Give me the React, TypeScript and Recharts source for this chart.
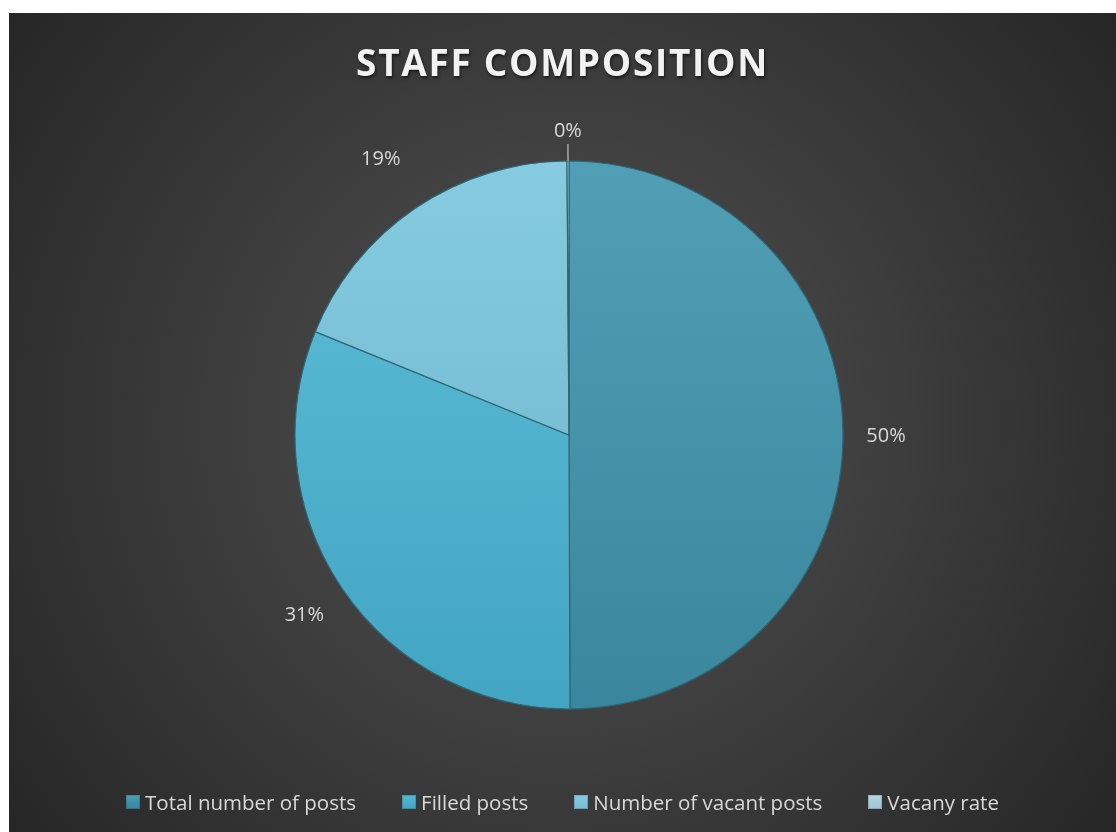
import React from "react";
import { PieChart, Pie, Cell, Legend } from "recharts";

const categories = ["Total number of posts", "Filled posts", "Number of vacant posts", "Vacany rate"];
const values = [160, 100, 60, 0.375];
const title = "STAFF COMPOSITION";

const topColors = ["#519fb5", "#55b6d1", "#86cbe0", "#b3d5e3"];
const bottomColors = ["#3a879d", "#42a5c1", "#78bfd5", "#9fc6d6"];
const iconColors = ["#3e8fa8", "#4bb0cc", "#7dc3d9", "#a9cbd9"];

const data = categories.map((name, i) => ({ name, value: values[i] }));

const FONT = "'Open Sans', 'DejaVu Sans', sans-serif";
const RADIAN = Math.PI / 180;

const renderLabel = (props: any) => {
  const { cx, cy, midAngle, outerRadius, percent } = props;
  const ux = Math.cos(-midAngle * RADIAN);
  const uy = Math.sin(-midAngle * RADIAN);
  const text = `${Math.round(percent * 100)}%`;
  if (percent < 0.01) {
    const d = outerRadius + 32;
    return (
      <g>
        <line
          x1={cx + ux * outerRadius}
          y1={cy + uy * outerRadius}
          x2={cx + ux * (outerRadius + 17)}
          y2={cy + uy * (outerRadius + 17)}
          stroke="#a6a6a6"
          strokeWidth={1.5}
        />
        <text x={cx + ux * d} y={cy + uy * d} fill="#d9d9d9" fontSize={20} fontFamily={FONT} textAnchor="middle" dominantBaseline="central">
          {text}
        </text>
      </g>
    );
  }
  const d = outerRadius + 24 + Math.abs(ux) * 19 + Math.abs(uy) * 10 + Math.max(0, ux * uy) * 40;
  return (
    <text x={cx + ux * d} y={cy + uy * d} fill="#d9d9d9" fontSize={20} fontFamily={FONT} textAnchor="middle" dominantBaseline="central">
      {text}
    </text>
  );
};

const renderLegend = () => (
  <div style={{ display: "flex", justifyContent: "center", alignItems: "center", fontFamily: FONT, fontSize: 20.5, color: "#d9d9d9" }}>
    {categories.map((c, i) => (
      <div key={c} style={{ display: "flex", alignItems: "center", marginRight: i < categories.length - 1 ? 46 : 0 }}>
        <div
          style={{
            width: 14,
            height: 14,
            marginRight: 5,
            background: `linear-gradient(180deg, ${topColors[i]} 0%, ${iconColors[i]} 50%, ${bottomColors[i]} 100%)`,
            boxShadow: "inset 0 0 0 1px rgba(0,0,0,0.15)",
          }}
        />
        <span>{c}</span>
      </div>
    ))}
  </div>
);

export default function App() {
  return (
    <div
      style={{
        position: "fixed",
        left: 9,
        top: 13,
        width: 1107,
        height: 819,
        background: "radial-gradient(circle farthest-corner at 50% 50%, #4c4c4c 0%, #434343 35%, #262626 100%)",
        overflow: "hidden",
      }}
    >
      <div
        style={{
          position: "absolute",
          left: 0,
          top: 25,
          width: "100%",
          textAlign: "center",
          fontFamily: FONT,
          fontWeight: 700,
          fontSize: 37,
          letterSpacing: 1.7,
          color: "#f2f2f2",
          lineHeight: "48px",
          textShadow: "1px 2px 3px rgba(0,0,0,0.6)",
        }}
      >
        {title}
      </div>
      <PieChart width={1107} height={819} margin={{ top: 0, right: 0, bottom: 0, left: 0 }}>
        <defs>
          {topColors.map((t, i) => (
            <linearGradient key={i} id={`grad${i}`} x1="0" y1="0" x2="0" y2="1">
              <stop offset="0%" stopColor={t} />
              <stop offset="100%" stopColor={bottomColors[i]} />
            </linearGradient>
          ))}
        </defs>
        <Pie
          data={data}
          dataKey="value"
          nameKey="name"
          cx={560}
          cy={422}
          outerRadius={274}
          startAngle={90}
          endAngle={-270}
          stroke="#2f6676"
          strokeWidth={1.2}
          label={renderLabel}
          labelLine={false}
          isAnimationActive={false}
        >
          {data.map((d, i) => (
            <Cell key={d.name} fill={`url(#grad${i})`} />
          ))}
        </Pie>
        <Legend verticalAlign="bottom" content={renderLegend} wrapperStyle={{ left: 0, width: "100%", bottom: 16 }} />
      </PieChart>
    </div>
  );
}
